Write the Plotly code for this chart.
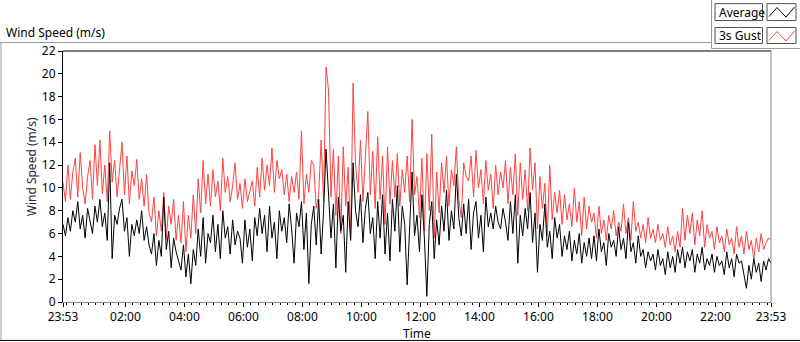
import pandas as pd
import plotly.graph_objects as go

# ---------------- data (5-minute samples, 23:53 -> 23:53) ----------------
start_time = "2023-01-01 23:53"
n_points = 289

gust = [
    10.5, 8.8, 12.0, 9.0, 11.4, 12.6, 9.2, 13.1, 10.0, 8.6, 11.0, 12.4,
    9.0, 13.8, 10.2, 14.2, 9.5, 12.0, 8.8, 15.0, 10.5, 12.4, 9.2, 11.8,
    14.0, 9.4, 12.8, 8.6, 11.5, 10.2, 12.5, 9.0, 10.8, 8.4, 11.2, 7.8,
    7.0, 9.2, 5.8, 8.0, 6.2, 9.6, 5.5, 8.4, 6.8, 9.0, 5.4, 7.6,
    5.2, 8.8, 4.4, 7.6, 5.6, 9.4, 6.0, 10.8, 7.8, 12.4, 8.6, 11.2,
    8.4, 11.6, 9.2, 10.6, 8.0, 12.6, 9.6, 11.0, 8.8, 10.2, 12.2, 9.0,
    10.4, 8.2, 10.8, 8.8, 9.6, 10.6, 8.4, 11.8, 9.2, 12.6, 9.8, 12.0,
    10.2, 13.5, 9.6, 12.4, 10.8, 11.6, 9.4, 11.2, 8.8, 11.0, 9.6, 11.4,
    9.0, 15.0, 8.6, 11.2, 9.6, 12.4, 12.0, 8.2, 9.4, 14.2, 8.8, 20.6,
    18.6, 9.2, 13.4, 7.6, 12.8, 6.0, 13.6, 8.4, 11.8, 5.6, 19.2, 12.0,
    9.6, 14.2, 8.8, 12.6, 16.7, 9.4, 13.2, 8.2, 14.5, 9.0, 12.8, 6.8,
    13.6, 8.6, 12.4, 9.2, 13.0, 8.4, 11.6, 9.6, 12.8, 8.8, 16.0, 9.4,
    11.0, 7.4, 12.6, 6.2, 13.0, 8.0, 14.7, 5.6, 11.4, 7.8, 12.2, 9.6,
    12.8, 8.4, 11.6, 10.2, 13.6, 9.0, 7.4, 12.2, 11.0, 10.6, 12.8, 9.2,
    13.3, 10.0, 11.6, 8.6, 12.4, 9.8, 11.2, 8.2, 12.0, 9.4, 11.4, 10.0,
    12.4, 8.6, 11.8, 9.4, 13.0, 7.6, 12.2, 9.0, 11.6, 8.0, 13.5, 9.8,
    12.2, 6.4, 11.0, 8.2, 10.4, 5.8, 12.0, 7.2, 9.6, 7.8, 9.8, 6.8,
    9.4, 7.2, 8.6, 6.6, 10.0, 7.0, 8.8, 5.8, 9.2, 6.4, 8.4, 7.0,
    7.8, 5.6, 8.4, 6.0, 7.2, 5.4, 7.6, 6.4, 8.0, 5.8, 7.0, 6.2,
    8.6, 6.0, 7.4, 5.4, 8.8, 6.2, 7.0, 5.6, 6.8, 5.2, 7.4, 5.6,
    6.4, 5.2, 6.8, 5.4, 6.0, 4.8, 6.6, 5.0, 5.8, 4.4, 6.2, 4.8,
    8.2, 5.4, 7.6, 6.0, 7.8, 5.0, 7.2, 5.8, 8.0, 4.8, 6.8, 5.6,
    6.2, 4.6, 6.6, 5.2, 5.8, 4.4, 6.4, 5.0, 5.6, 4.2, 6.6, 4.8,
    5.8, 4.2, 6.2, 4.6, 5.4, 3.8, 5.6, 4.4, 6.0, 4.6, 5.2, 5.6,
    5.4,
]

average = [
    6.8, 5.8, 7.4, 6.2, 8.0, 7.0, 8.8, 6.4, 7.6, 5.6, 8.2, 7.2,
    6.0, 8.4, 7.0, 9.0, 6.6, 7.8, 5.4, 12.2, 3.8, 7.6, 6.8, 8.2,
    9.0, 6.2, 7.4, 4.0, 6.8, 5.8, 7.2, 6.0, 8.0, 5.4, 6.6, 5.0,
    4.2, 6.0, 3.2, 5.4, 4.0, 9.2, 4.6, 6.2, 3.0, 5.6, 4.4, 3.6,
    2.8, 5.0, 2.2, 4.2, 1.6, 4.6, 3.2, 6.4, 4.0, 7.4, 3.4, 6.0,
    5.2, 7.6, 4.4, 6.8, 3.8, 8.0, 5.6, 6.6, 4.2, 7.2, 5.0, 6.2,
    5.6, 3.4, 7.2, 4.8, 6.4, 3.6, 7.4, 5.8, 8.2, 6.0, 7.6, 4.4,
    8.4, 5.6, 7.0, 3.8, 8.0, 6.2, 7.4, 5.2, 8.6, 6.4, 3.4, 7.8,
    6.6, 8.8, 4.6, 7.8, 1.6, 6.8, 8.4, 5.0, 9.0, 4.2, 8.0, 13.4,
    9.6, 5.6, 8.6, 3.0, 9.2, 6.2, 7.6, 2.6, 8.8, 5.4, 12.2, 8.0,
    6.6, 9.4, 5.2, 8.2, 9.6, 6.0, 7.4, 3.8, 8.8, 5.6, 9.4, 4.2,
    7.8, 3.6, 9.0, 6.2, 10.2, 4.4, 8.4, 6.8, 1.5, 7.2, 11.4, 5.8,
    7.6, 4.4, 9.4, 5.6, 0.5, 6.8, 8.8, 3.8, 7.2, 5.0, 8.4, 6.2,
    9.8, 5.4, 8.0, 6.4, 11.2, 7.4, 5.8, 8.6, 6.0, 9.0, 4.6, 7.8,
    8.8, 5.6, 7.6, 4.4, 9.2, 6.6, 7.8, 6.4, 8.4, 7.0, 6.4, 8.2,
    7.0, 5.4, 8.8, 6.0, 9.4, 3.4, 7.6, 5.8, 8.2, 6.4, 9.6, 5.2,
    7.8, 2.6, 6.8, 5.4, 8.6, 4.8, 6.2, 3.8, 7.4, 5.6, 6.8, 4.0,
    5.8, 4.6, 6.2, 3.6, 5.4, 4.2, 6.0, 3.4, 5.2, 4.0, 5.6, 3.8,
    5.8, 3.6, 6.4, 4.4, 5.2, 3.2, 6.0, 4.8, 5.4, 4.0, 6.6, 4.6,
    5.6, 3.8, 7.0, 4.4, 5.2, 3.4, 5.8, 4.0, 4.6, 3.0, 4.4, 3.6,
    4.2, 2.8, 4.6, 3.2, 3.8, 2.4, 4.4, 3.0, 4.0, 2.6, 4.6, 3.4,
    4.8, 3.0, 4.4, 3.6, 4.6, 2.6, 4.2, 3.4, 4.8, 2.8, 3.8, 3.2,
    4.2, 2.6, 4.0, 3.2, 3.6, 2.4, 4.4, 3.0, 3.8, 2.2, 4.2, 3.4,
    3.6, 2.4, 1.2, 3.2, 2.0, 3.8, 2.6, 3.4, 1.8, 3.6, 2.8, 3.8,
    3.4,
]

x_tick_values = [
    "2023-01-01 23:53", "2023-01-02 02:00", "2023-01-02 04:00", "2023-01-02 06:00",
    "2023-01-02 08:00", "2023-01-02 10:00", "2023-01-02 12:00", "2023-01-02 14:00",
    "2023-01-02 16:00", "2023-01-02 18:00", "2023-01-02 20:00", "2023-01-02 22:00",
    "2023-01-02 23:53",
]
x_tick_labels = ["23:53", "02:00", "04:00", "06:00", "08:00", "10:00", "12:00",
                 "14:00", "16:00", "18:00", "20:00", "22:00", "23:53"]
y_tick_values = [0, 2, 4, 6, 8, 10, 12, 14, 16, 18, 20, 22]

times = pd.date_range(start_time, periods=n_points, freq="5min")

# ---------------- figure ----------------
W, H = 800, 342
L, R, T, B = 63, 771, 51, 302.5


def px(x):
    return (x - L) / (R - L)


def py(y):
    return (B - y) / (B - T)


FONT = "Noto Sans, DejaVu Sans, sans-serif"
RED = "#ff4242"

fig = go.Figure()
fig.add_trace(go.Scatter(x=times, y=gust, mode="lines", name="3s Gust",
                         line=dict(color=RED, width=1)))
fig.add_trace(go.Scatter(x=times, y=average, mode="lines", name="Average",
                         line=dict(color="black", width=1)))

fig.update_layout(
    width=W, height=H,
    margin=dict(l=L, r=W - R, t=T, b=H - B, pad=0),
    paper_bgcolor="white", plot_bgcolor="white",
    showlegend=False,
    font=dict(family=FONT, size=12, color="black"),
)

fig.update_xaxes(
    type="date", range=[times[0], times[-1]],
    tickvals=x_tick_values, ticktext=x_tick_labels,
    ticks="outside", ticklen=4, tickcolor="black", tickwidth=1,
    tickfont=dict(size=12, color="black"),
    showgrid=False, zeroline=False,
    showline=True, linecolor="#8a8a8a", linewidth=1,
    minor=dict(ticks="outside", ticklen=2, tickcolor="black",
               dtick=15 * 60 * 1000, tick0="2023-01-02 00:00", showgrid=False),
)
fig.update_yaxes(
    range=[0, 22], tickvals=y_tick_values,
    ticks="outside", ticklen=4, tickcolor="black", tickwidth=1,
    tickfont=dict(size=12, color="black"),
    showgrid=False, zeroline=False,
    showline=True, linecolor="black", linewidth=1,
)

shapes = []


def line(x0, y0, x1, y1, color, width=1):
    shapes.append(dict(type="line", xref="paper", yref="paper",
                       x0=px(x0), y0=py(y0), x1=px(x1), y1=py(y1),
                       line=dict(color=color, width=width)))


def rect(x0, y0, x1, y1, color):
    shapes.append(dict(type="rect", xref="paper", yref="paper",
                       x0=px(x0), y0=py(y0), x1=px(x1), y1=py(y1),
                       line=dict(color=color, width=1), fillcolor="white"))


def zigzag(pts, color):
    d = "M " + " L ".join(f"{px(a)},{py(b)}" for a, b in pts)
    shapes.append(dict(type="path", xref="paper", yref="paper", path=d,
                       line=dict(color=color, width=1)))


# plot frame (top black, right gray)
line(L, T, R, T, "black")
line(R, T, R, B, "#8a8a8a")

# outer panel
line(0, 42.5, 711.5, 42.5, "#9a9a9a")
line(711.5, 0, 711.5, 48.5, "#9a9a9a")
line(711.5, 48.5, 800, 48.5, "#9a9a9a")
line(1, 42.5, 1, 341, "#9a9a9a")
line(0, 341, 800, 341, "black")

# legend
rect(715, 3.5, 762.5, 20.5, "#505050")
rect(767, 3.5, 796, 20.5, "#505050")
rect(715, 27.5, 762.5, 43.5, "#505050")
rect(767, 27.5, 796, 43.5, "#505050")
zigzag([(769, 16.5), (777, 7.5), (786, 17), (794.5, 7)], "black")
zigzag([(769, 40.5), (777, 31.5), (786, 41), (794.5, 31)], RED)

annotations = [
    dict(text="Average", x=px(717), y=py(12), xanchor="left", yanchor="middle"),
    dict(text="3s Gust", x=px(717), y=py(35.5), xanchor="left", yanchor="middle"),
    dict(text="Wind Speed (m/s)", x=px(4), y=py(32), xanchor="left", yanchor="middle"),
    dict(text="Time", x=0.5, y=py(334), xanchor="center", yanchor="middle"),
    dict(text="Wind Speed (m/s)", x=px(31), y=py(167.5), xanchor="center",
         yanchor="middle", textangle=-90, font=dict(color="#1c1c44")),
]
for a in annotations:
    a.update(xref="paper", yref="paper", showarrow=False)
    a.setdefault("font", {})
    a["font"] = dict(family=FONT, size=12, color=a["font"].get("color", "black"))

fig.update_layout(shapes=shapes, annotations=annotations)

fig.write_html(
    "out.html",
    config={"displayModeBar": False},
    post_script="document.body.style.margin='0px';document.body.style.overflow='hidden';",
)
